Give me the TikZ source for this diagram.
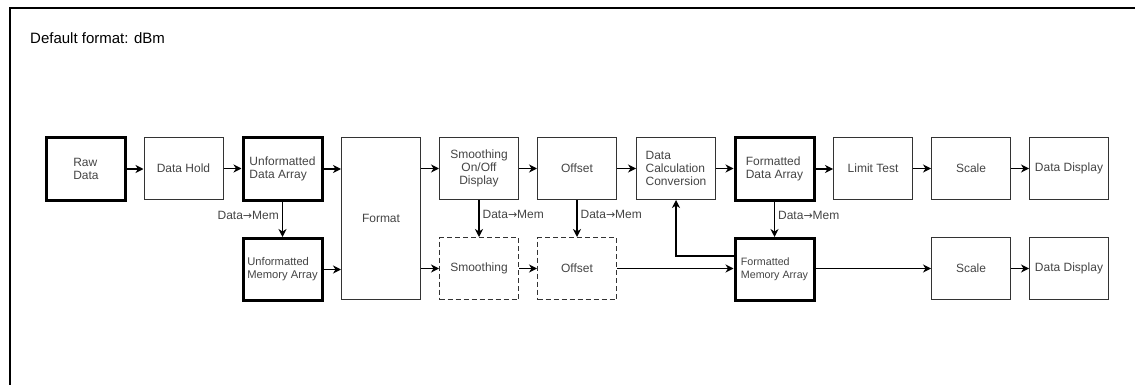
\documentclass[tikz,border=0pt]{standalone}
\usepackage{fontspec}
\setmainfont{Liberation Sans}
\newfontfamily\arrowfont{DejaVu Sans}
\usetikzlibrary{arrows.meta}
\definecolor{txtgray}{RGB}{68,68,68}
\definecolor{linegray}{RGB}{51,51,51}
\newcommand{\dtm}{Data{\arrowfont\fontsize{11}{13}\selectfont →}Mem}
\tikzset{
  box/.style={draw=linegray, line width=1pt, minimum width=79pt, minimum height=62pt,
    inner sep=1pt, text=txtgray, font=\fontsize{12}{13.3}\selectfont, align=center},
  thickbox/.style={box, draw=black, line width=3pt},
  dashbox/.style={box, dash pattern=on 5pt off 3pt},
  arr/.style={draw=black, line width=1.3pt, -{Stealth[length=8pt,width=8pt,inset=2.5pt]}},
  lbl/.style={text=txtgray, font=\fontsize{12}{13.3}\selectfont, inner sep=3pt},
}
\begin{document}
\begin{tikzpicture}[x=1pt,y=-1pt]
\useasboundingbox (0,0) rectangle (1135,385);
\draw[line width=2pt] (9.5,385) -- (9.5,8) -- (1135,8);
\node[anchor=base west, inner sep=0pt, font=\fontsize{15}{17}\selectfont] (title) at (30,43.5) {Default format: dBm};

% row 1
\node[thickbox, align=left] (raw) at (86,169) {Raw\\Data};
\node[box] (hold) at (183.5,168.5) {Data Hold};
\node[thickbox, align=left] (uda) at (282.5,169) {Unformatted\\Data Array};
\node[box, minimum height=162pt] (fmt) at (381,218.5) {Format};
\node[box] (smo) at (479,168.5) {Smoothing\\On/Off\\Display};
\node[box] (off) at (577,168.5) {Offset};
\node[box, align=left] (calc) at (676,168.5) {Data\\Calculation\\Conversion};
\node[thickbox, align=left] (fda) at (774.5,169) {Formatted\\Data Array};
\node[box] (lim) at (873,168.5) {Limit Test};
\node[box] (sc1) at (971,168.5) {Scale};
\node[box] (dd1) at (1069,168.5) {Data Display};

% row 2
\node[thickbox, align=left, font=\fontsize{11.2}{13}\selectfont] (uma) at (282.5,269.5) {Unformatted\\Memory Array};
\node[dashbox] (smo2) at (479,268.5) {Smoothing};
\node[dashbox] (off2) at (577,268.5) {Offset};
\node[thickbox, align=left, font=\fontsize{10.7}{13}\selectfont] (fma) at (774.5,269.5) {Formatted\\Memory Array};
\node[box] (sc2) at (971,268.5) {Scale};
\node[box] (dd2) at (1069,268.5) {Data Display};

% row 1 arrows
\draw[arr] (raw.east) -- (raw.east -| hold.west);
\draw[arr] (hold.east) -- (hold.east -| uda.west);
\draw[arr] (uda.east) -- (uda.east -| fmt.west);
\draw[arr] (fmt.east |- smo.west) -- (smo.west);
\draw[arr] (smo.east) -- (off.west);
\draw[arr] (off.east) -- (calc.west);
\draw[arr] (calc.east) -- (calc.east -| fda.west);
\draw[arr] (fda.east) -- (fda.east -| lim.west);
\draw[arr] (lim.east) -- (sc1.west);
\draw[arr] (sc1.east) -- (dd1.west);

% row 2 arrows
\draw[arr] (uma.east) -- (uma.east -| fmt.west);
\draw[arr] (fmt.east |- smo2.west) -- (smo2.west);
\draw[arr] (smo2.east) -- (off2.west);
\draw[arr] (off2.east) -- (off2.east -| fma.west);
\draw[arr] (fma.east |- sc2.west) -- (sc2.west);
\draw[arr] (sc2.east) -- (dd2.west);

% vertical Data->Mem arrows
\draw[arr] (uda.south) -- node[lbl, pos=0.38, anchor=east] {\dtm} (uma.north);
\draw[arr] (smo.south) -- node[lbl, pos=0.38, anchor=west] {\dtm} (smo2.north);
\draw[arr] (off.south) -- node[lbl, pos=0.38, anchor=west] {\dtm} (off2.north);
\draw[arr] (fda.south) -- node[lbl, pos=0.38, anchor=west] {\dtm} (fma.north);

% feedback
\coordinate (fbk) at (676,256);
\draw[arr] (fma.west |- fbk) -| (calc.south);
\end{tikzpicture}
\end{document}
